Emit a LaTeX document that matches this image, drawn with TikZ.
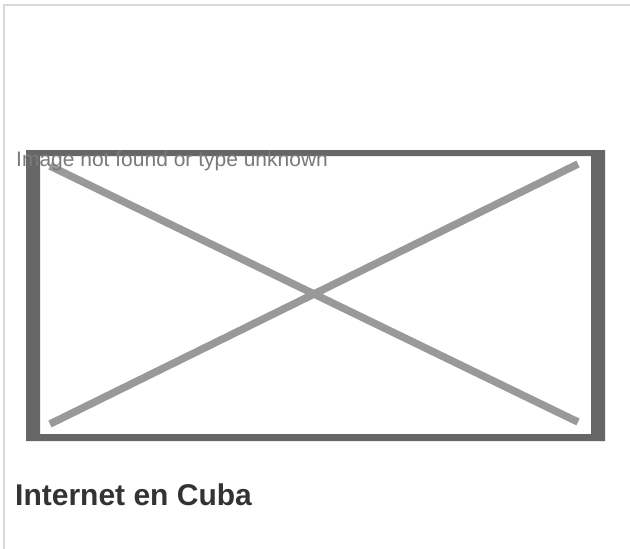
\documentclass[tikz,border=0pt]{standalone}
\usepackage{fontspec}
\setmainfont{Liberation Sans}
\definecolor{edgegray}{HTML}{D9D9D9}
\definecolor{framegray}{HTML}{666666}
\definecolor{crossgray}{HTML}{999999}
\definecolor{notegray}{HTML}{7A7A7A}
\definecolor{titlegray}{HTML}{333333}
\tikzset{
  crossline/.style={crossgray, line width=7.5pt},
  notetext/.style={notegray, anchor=base west, inner sep=0pt, font=\fontsize{21}{24}\selectfont},
  titletext/.style={titlegray, anchor=base west, inner sep=0pt, font=\fontsize{30}{34}\selectfont\bfseries}
}
\begin{document}
\begin{tikzpicture}[x=1pt,y=-1pt]
    \useasboundingbox (0,0) rectangle (630,549);
    \fill[white] (0,0) rectangle (630,549);
    \draw[edgegray, line width=2pt] (3.5,549) -- (3.5,4.5) -- (630,4.5);
    \fill[framegray, even odd rule] (26,150) rectangle (605,441)
      (40,156) rectangle (591,434);
    \draw[crossline] (50,166) -- (578,422);
    \draw[crossline] (50,424) -- (578,164);
    \node[notetext] (note) at (16,166.5) {Image not found or type unknown};
    \node[titletext] (title) at (15,505) {Internet en Cuba};
  \end{tikzpicture}
\end{document}
